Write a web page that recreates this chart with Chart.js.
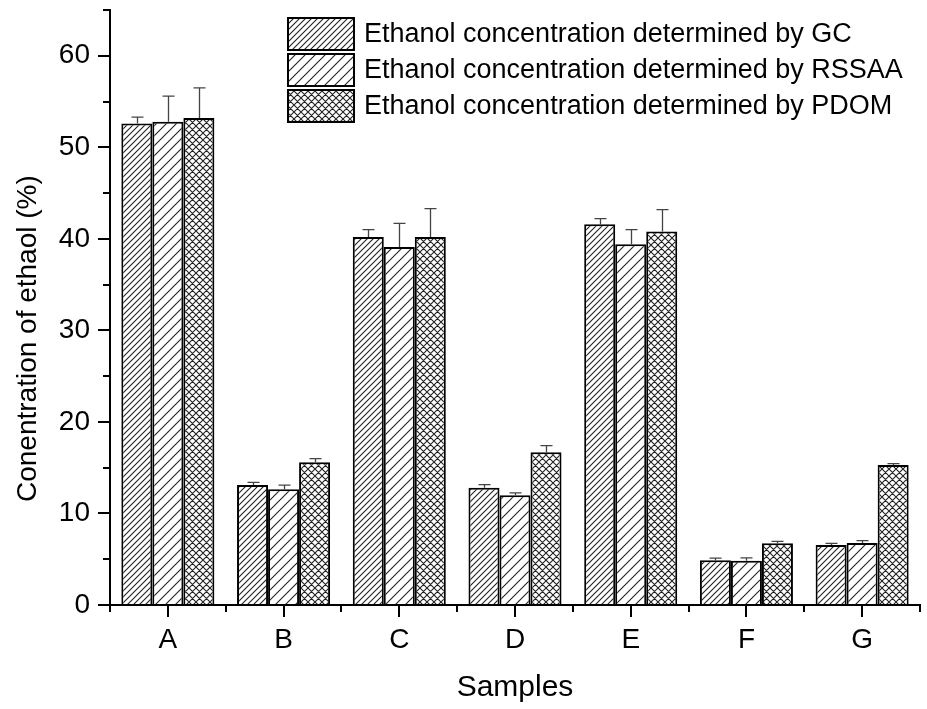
<!DOCTYPE html>
<html>
<head>
<meta charset="utf-8">
<script src="https://cdn.jsdelivr.net/npm/chart.js@4.4.1/dist/chart.umd.min.js"></script>
<style>
html,body{margin:0;padding:0;background:#fff;}
#wrap{width:927px;height:709px;}
</style>
</head>
<body>
<div id="wrap"><canvas id="c" width="927" height="709"></canvas></div>
<script>
const categories = ['A','B','C','D','E','F','G'];
const gcValues    = [52.6, 13.1, 40.2, 12.8, 41.6, 4.88, 6.56];
const gcErrors    = [0.7, 0.3, 0.8, 0.35, 0.6, 0.25, 0.18];
const rssaaValues = [52.8, 12.65, 39.1, 12.0, 39.4, 4.84, 6.78];
const rssaaErrors = [2.8, 0.45, 2.6, 0.25, 1.6, 0.3, 0.25];
const pdomValues  = [53.2, 15.6, 40.2, 16.7, 40.8, 6.74, 15.3];
const pdomErrors  = [3.3, 0.4, 3.1, 0.7, 2.4, 0.22, 0.15];
const seriesLabels = [
  'Ethanol concentration determined by GC',
  'Ethanol concentration determined by RSSAA',
  'Ethanol concentration determined by PDOM'
];
const yTickValues = [0,10,20,30,40,50,60];

const FONT = '"Liberation Sans", Arial, sans-serif';

function hatch(size, cross){
  const c = document.createElement('canvas');
  c.width = size; c.height = size;
  const g = c.getContext('2d');
  g.fillStyle = '#fff'; g.fillRect(0,0,size,size);
  g.strokeStyle = '#222'; g.lineWidth = 1.1;
  g.beginPath();
  g.moveTo(-1, size+1); g.lineTo(size+1, -1);
  g.moveTo(-1, 1); g.lineTo(1, -1);
  g.moveTo(size-1, size+1); g.lineTo(size+1, size-1);
  if (cross){
    g.moveTo(-1, -1); g.lineTo(size+1, size+1);
    g.moveTo(size-1, -1); g.lineTo(size+1, 1);
    g.moveTo(-1, size-1); g.lineTo(1, size+1);
  }
  g.stroke();
  return document.getElementById('c').getContext('2d').createPattern(c, 'repeat');
}
const patGC = hatch(6, false);
const patRS = hatch(10, false);
const patPD = hatch(7, true);

const errorData = [gcErrors, rssaaErrors, pdomErrors];

const extrasPlugin = {
  id: 'extras',
  afterDatasetsDraw(chart){
    const ctx = chart.ctx;
    const y = chart.scales.y;
    ctx.save();
    ctx.strokeStyle = '#444';
    ctx.lineWidth = 1.3;
    chart.data.datasets.forEach((ds, i) => {
      const meta = chart.getDatasetMeta(i);
      meta.data.forEach((el, j) => {
        const top = y.getPixelForValue(ds.data[j] + errorData[i][j]);
        const x = Math.round(el.x) + 0.5;
        ctx.beginPath();
        ctx.moveTo(x, el.y);
        ctx.lineTo(x, top);
        ctx.moveTo(x - 6, top);
        ctx.lineTo(x + 6, top);
        ctx.stroke();
      });
    });
    ctx.restore();
  },
  afterDraw(chart){
    const ctx = chart.ctx;
    const {left, right, bottom} = chart.chartArea;
    const x = chart.scales.x, y = chart.scales.y;
    ctx.save();
    ctx.strokeStyle = '#000';
    ctx.lineWidth = 2;
    for (let v = 5; v <= 65; v += 10){
      const py = Math.round(y.getPixelForValue(v));
      ctx.beginPath(); ctx.moveTo(left - 7, py); ctx.lineTo(left, py); ctx.stroke();
    }
    const n = categories.length;
    for (let i = 0; i <= n; i++){
      let px;
      if (i === 0) px = left;
      else if (i === n) px = right;
      else px = (x.getPixelForTick(i-1) + x.getPixelForTick(i)) / 2;
      px = Math.round(px);
      ctx.beginPath(); ctx.moveTo(px, bottom); ctx.lineTo(px, bottom + 7); ctx.stroke();
    }
    const boxX = 288, boxW = 66, boxH = 32, rowTops = [18, 54, 90];
    ctx.font = '27px ' + FONT;
    ctx.textBaseline = 'middle';
    ctx.textAlign = 'left';
    chart.data.datasets.forEach((ds, i) => {
      const t = rowTops[i];
      ctx.fillStyle = ds.backgroundColor;
      ctx.fillRect(boxX, t, boxW, boxH);
      ctx.lineWidth = 2;
      ctx.strokeStyle = '#000';
      ctx.strokeRect(boxX, t, boxW, boxH);
      ctx.fillStyle = '#000';
      ctx.fillText(ds.label, 364, t + boxH/2 + 1);
    });
    ctx.restore();
  }
};

new Chart(document.getElementById('c'), {
  type: 'bar',
  data: {
    labels: categories,
    datasets: [
      {label: seriesLabels[0], data: gcValues, backgroundColor: patGC, borderColor: '#000', borderWidth: 2},
      {label: seriesLabels[1], data: rssaaValues, backgroundColor: patRS, borderColor: '#000', borderWidth: 2},
      {label: seriesLabels[2], data: pdomValues, backgroundColor: patPD, borderColor: '#000', borderWidth: 2}
    ]
  },
  options: {
    responsive: false,
    animation: false,
    devicePixelRatio: 1,
    layout: {padding: {top: 10, right: 7, left: 0, bottom: 0}},
    datasets: {bar: {categoryPercentage: 0.804, barPercentage: 1.0}},
    plugins: {legend: {display: false}, tooltip: {enabled: false}},
    scales: {
      x: {
        grid: {display: true, drawOnChartArea: false, drawTicks: true, tickLength: 12, color: '#000', lineWidth: 2, offset: false},
        border: {display: true, color: '#000', width: 2},
        ticks: {color: '#000', font: {family: FONT, size: 28}, padding: 6},
        title: {display: true, text: 'Samples', color: '#000', font: {family: FONT, size: 30}, padding: {top: 0, bottom: 3}},
        afterFit: s => { s.height = 104; s.paddingLeft = 0; s.paddingRight = 0; }
      },
      y: {
        min: 0, max: 65,
        grid: {display: true, drawOnChartArea: false, drawTicks: true, tickLength: 12, color: '#000', lineWidth: 2},
        border: {display: true, color: '#000', width: 2},
        ticks: {color: '#000', font: {family: FONT, size: 28}, padding: 8, stepSize: 10},
        afterBuildTicks: s => { s.ticks = yTickValues.map(v => ({value: v})); },
        title: {display: true, text: 'Conentration of ethaol (%)        ', color: '#000', font: {family: FONT, size: 28}, padding: {top: 11, bottom: 0}},
        afterFit: s => { s.width = 110; s.paddingTop = 0; s.paddingBottom = 0; }
      }
    }
  },
  plugins: [extrasPlugin]
});
</script>
</body>
</html>
